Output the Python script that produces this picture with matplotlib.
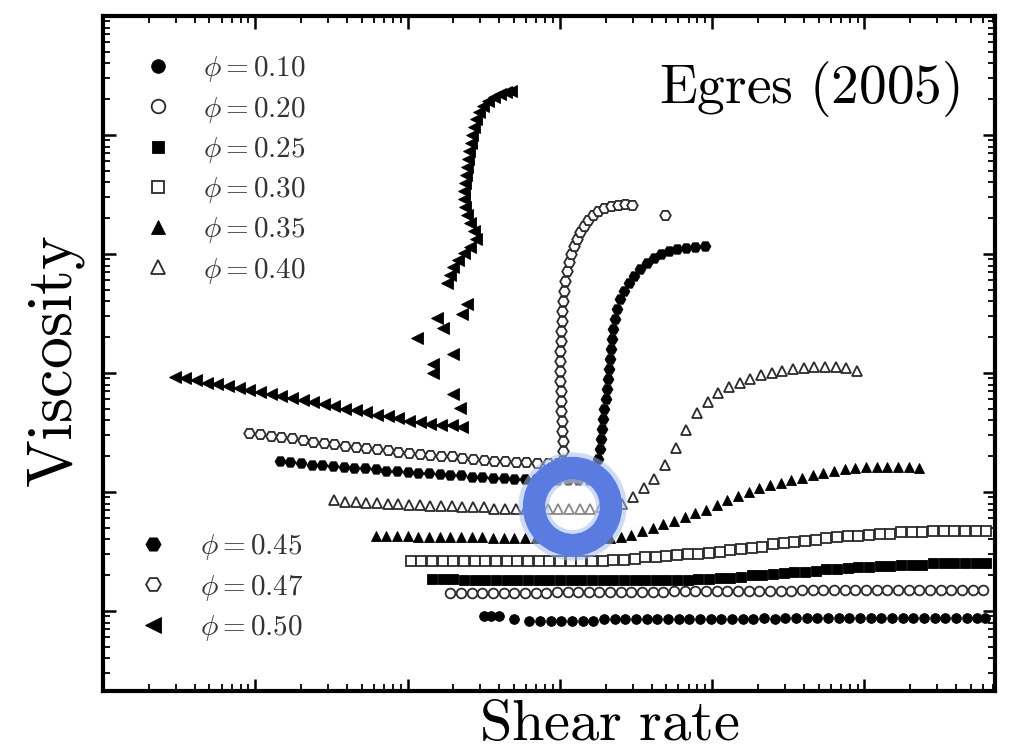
import numpy as np
import matplotlib
matplotlib.use("Agg")
import matplotlib.pyplot as plt
from matplotlib.lines import Line2D
from matplotlib.ticker import LogLocator, NullFormatter

plt.rcParams['mathtext.fontset'] = 'cm'

# Volume fractions shown in the legends
phi_values = ['0.10', '0.20', '0.25', '0.30', '0.35', '0.40', '0.45', '0.47', '0.50']

# log10(shear rate) and log10(viscosity) for each volume fraction
log_rate_10 = [0.50, 0.55, 0.60, 0.70, 0.80, 0.87, 0.94, 1.01, 1.08, 1.15,
               1.22, 1.29, 1.36, 1.43, 1.50, 1.57, 1.64, 1.71, 1.78, 1.85,
               1.92, 1.99, 2.06, 2.13, 2.20, 2.27, 2.34, 2.41, 2.48, 2.55,
               2.62, 2.69, 2.76, 2.83, 2.90, 2.97, 3.04, 3.11, 3.18, 3.25,
               3.32, 3.39, 3.46, 3.53, 3.60, 3.67, 3.74, 3.79]
log_visc_10 = [-3.04, -3.04, -3.04, -3.07, -3.08, -3.08, -3.08, -3.08, -3.08, -3.08,
               -3.08, -3.07, -3.07, -3.07, -3.07, -3.07, -3.07, -3.07, -3.07, -3.07,
               -3.07, -3.07, -3.07, -3.07, -3.07, -3.07, -3.06, -3.07, -3.06, -3.06,
               -3.06, -3.06, -3.06, -3.06, -3.06, -3.06, -3.06, -3.06, -3.06, -3.06,
               -3.06, -3.06, -3.06, -3.06, -3.06, -3.06, -3.06, -3.06]

log_rate_20 = [0.28, 0.35, 0.42, 0.49, 0.56, 0.63, 0.70, 0.77, 0.84, 0.91,
               0.98, 1.05, 1.12, 1.19, 1.26, 1.33, 1.40, 1.47, 1.54, 1.61,
               1.68, 1.75, 1.82, 1.89, 1.96, 2.03, 2.10, 2.17, 2.24, 2.31,
               2.38, 2.45, 2.52, 2.59, 2.66, 2.73, 2.80, 2.87, 2.94, 3.01,
               3.08, 3.15, 3.22, 3.29, 3.36, 3.43, 3.50, 3.57, 3.64, 3.71,
               3.78]
log_visc_20 = [-2.85, -2.85, -2.85, -2.85, -2.85, -2.85, -2.85, -2.85, -2.85, -2.85,
               -2.84, -2.84, -2.84, -2.84, -2.84, -2.84, -2.84, -2.84, -2.84, -2.84,
               -2.84, -2.83, -2.83, -2.83, -2.83, -2.83, -2.83, -2.83, -2.83, -2.83,
               -2.83, -2.83, -2.83, -2.82, -2.82, -2.82, -2.82, -2.82, -2.82, -2.82,
               -2.82, -2.82, -2.82, -2.82, -2.82, -2.82, -2.82, -2.82, -2.82, -2.82,
               -2.82]

log_rate_25 = [0.16, 0.23, 0.30, 0.37, 0.44, 0.51, 0.58, 0.65, 0.72, 0.79,
               0.86, 0.93, 1.00, 1.07, 1.14, 1.21, 1.28, 1.35, 1.42, 1.49,
               1.56, 1.63, 1.70, 1.77, 1.84, 1.91, 1.98, 2.05, 2.12, 2.19,
               2.26, 2.33, 2.40, 2.47, 2.54, 2.61, 2.68, 2.75, 2.82, 2.89,
               2.96, 3.03, 3.10, 3.17, 3.24, 3.31, 3.38, 3.45, 3.52, 3.59,
               3.66, 3.73, 3.80]
log_visc_25 = [-2.73, -2.73, -2.73, -2.74, -2.74, -2.74, -2.74, -2.74, -2.74, -2.74,
               -2.74, -2.74, -2.74, -2.74, -2.74, -2.74, -2.74, -2.74, -2.74, -2.74,
               -2.74, -2.74, -2.74, -2.74, -2.74, -2.73, -2.73, -2.72, -2.72, -2.71,
               -2.70, -2.70, -2.69, -2.68, -2.67, -2.67, -2.66, -2.65, -2.65, -2.64,
               -2.63, -2.63, -2.62, -2.62, -2.61, -2.61, -2.61, -2.60, -2.60, -2.60,
               -2.60, -2.60, -2.60]

log_rate_30 = [0.02, 0.09, 0.16, 0.23, 0.30, 0.37, 0.44, 0.51, 0.58, 0.65,
               0.72, 0.79, 0.86, 0.93, 1.00, 1.07, 1.14, 1.21, 1.28, 1.35,
               1.42, 1.49, 1.56, 1.63, 1.70, 1.77, 1.84, 1.91, 1.98, 2.05,
               2.12, 2.19, 2.26, 2.33, 2.40, 2.47, 2.54, 2.61, 2.68, 2.75,
               2.82, 2.89, 2.96, 3.03, 3.10, 3.17, 3.24, 3.31, 3.38, 3.45,
               3.52, 3.59, 3.66, 3.73, 3.80]
log_visc_30 = [-2.58, -2.58, -2.58, -2.58, -2.58, -2.58, -2.58, -2.58, -2.58, -2.58,
               -2.58, -2.58, -2.58, -2.58, -2.58, -2.58, -2.58, -2.58, -2.58, -2.57,
               -2.57, -2.56, -2.55, -2.55, -2.54, -2.53, -2.52, -2.52, -2.51, -2.50,
               -2.49, -2.48, -2.47, -2.46, -2.44, -2.43, -2.42, -2.41, -2.40, -2.39,
               -2.38, -2.37, -2.37, -2.36, -2.35, -2.35, -2.34, -2.34, -2.34, -2.33,
               -2.33, -2.33, -2.33, -2.33, -2.33]

log_rate_35 = [-0.21, -0.14, -0.07, 0.00, 0.07, 0.14, 0.21, 0.28, 0.35, 0.42,
               0.49, 0.56, 0.63, 0.70, 0.77, 0.84, 0.91, 0.98, 1.05, 1.12,
               1.19, 1.26, 1.33, 1.40, 1.47, 1.54, 1.61, 1.68, 1.75, 1.82,
               1.89, 1.96, 2.03, 2.10, 2.17, 2.24, 2.31, 2.38, 2.45, 2.52,
               2.59, 2.66, 2.73, 2.80, 2.87, 2.94, 3.01, 3.08, 3.15, 3.22,
               3.29, 3.36]
log_visc_35 = [-2.37, -2.37, -2.37, -2.37, -2.38, -2.38, -2.38, -2.38, -2.38, -2.38,
               -2.38, -2.39, -2.39, -2.39, -2.39, -2.39, -2.39, -2.39, -2.39, -2.39,
               -2.39, -2.39, -2.39, -2.38, -2.36, -2.33, -2.30, -2.27, -2.24, -2.21,
               -2.18, -2.15, -2.11, -2.07, -2.03, -2.00, -1.97, -1.94, -1.92, -1.90,
               -1.88, -1.86, -1.84, -1.82, -1.81, -1.80, -1.79, -1.79, -1.79, -1.79,
               -1.79, -1.80]

log_rate_40 = [-0.48, -0.41, -0.34, -0.27, -0.20, -0.13, -0.06, 0.01, 0.08, 0.15,
               0.22, 0.29, 0.36, 0.43, 0.50, 0.57, 0.64, 0.71, 0.78, 0.85,
               0.92, 0.99, 1.06, 1.13, 1.20, 1.27, 1.34, 1.41, 1.48, 1.55,
               1.62, 1.69, 1.76, 1.83, 1.90, 1.97, 2.04, 2.11, 2.18, 2.25,
               2.32, 2.39, 2.46, 2.53, 2.60, 2.67, 2.74, 2.81, 2.88, 2.95]
log_visc_40 = [-2.07, -2.08, -2.08, -2.09, -2.09, -2.10, -2.10, -2.11, -2.11, -2.12,
               -2.12, -2.12, -2.13, -2.13, -2.13, -2.14, -2.14, -2.14, -2.14, -2.14,
               -2.14, -2.14, -2.14, -2.14, -2.14, -2.13, -2.13, -2.10, -2.04, -1.97,
               -1.89, -1.77, -1.63, -1.48, -1.34, -1.24, -1.17, -1.12, -1.08, -1.05,
               -1.02, -1.00, -0.98, -0.97, -0.96, -0.95, -0.95, -0.95, -0.96, -0.98]

log_rate_45 = [-0.84, -0.77, -0.70, -0.63, -0.56, -0.49, -0.42, -0.35, -0.28, -0.21,
               -0.14, -0.07, 0.00, 0.07, 0.14, 0.21, 0.28, 0.35, 0.42, 0.49,
               0.56, 0.63, 0.70, 0.77, 0.84, 0.91, 0.98, 1.05, 1.12, 1.19,
               1.224, 1.237, 1.250, 1.263, 1.270, 1.276, 1.283, 1.290, 1.303, 1.309,
               1.316, 1.322, 1.329, 1.335, 1.342, 1.349, 1.362, 1.375, 1.395, 1.421,
               1.454, 1.487, 1.526, 1.572, 1.618, 1.664, 1.716, 1.769, 1.828, 1.887,
               1.953]
log_visc_45 = [-1.74, -1.75, -1.76, -1.77, -1.77, -1.78, -1.79, -1.80, -1.80, -1.81,
               -1.82, -1.82, -1.83, -1.84, -1.84, -1.85, -1.86, -1.86, -1.87, -1.87,
               -1.88, -1.88, -1.89, -1.89, -1.89, -1.90, -1.90, -1.90, -1.90, -1.90,
               -1.891, -1.807, -1.723, -1.639, -1.555, -1.471, -1.387, -1.303, -1.218, -1.134,
               -1.050, -0.966, -0.882, -0.798, -0.714, -0.630, -0.546, -0.462, -0.378, -0.311,
               -0.244, -0.185, -0.126, -0.076, -0.034, 0.000, 0.025, 0.042, 0.050, 0.059,
               0.067]

log_rate_47 = [-1.04, -0.97, -0.90, -0.83, -0.76, -0.69, -0.62, -0.55, -0.48, -0.41,
               -0.34, -0.27, -0.20, -0.13, -0.06, 0.01, 0.08, 0.15, 0.22, 0.29,
               0.36, 0.43, 0.50, 0.57, 0.64, 0.71, 0.78, 0.85, 0.92, 0.99,
               1.014, 1.020, 1.020, 1.014, 1.014, 1.007, 1.007, 1.007, 1.001, 1.001,
               1.001, 1.001, 1.007, 1.007, 1.014, 1.014, 1.020, 1.027, 1.033, 1.047,
               1.060, 1.073, 1.093, 1.112, 1.132, 1.158, 1.185, 1.217, 1.250, 1.290,
               1.336, 1.381, 1.427, 1.473, 1.690]
log_visc_47 = [-1.50, -1.51, -1.53, -1.54, -1.55, -1.56, -1.58, -1.59, -1.60, -1.61,
               -1.62, -1.63, -1.64, -1.65, -1.66, -1.67, -1.68, -1.69, -1.70, -1.70,
               -1.71, -1.72, -1.73, -1.74, -1.74, -1.75, -1.75, -1.76, -1.76, -1.76,
               -1.739, -1.655, -1.571, -1.487, -1.403, -1.319, -1.235, -1.151, -1.067, -0.983,
               -0.899, -0.815, -0.731, -0.647, -0.563, -0.479, -0.395, -0.311, -0.227, -0.143,
               -0.067, 0.000, 0.067, 0.126, 0.185, 0.235, 0.286, 0.328, 0.361, 0.387,
               0.403, 0.412, 0.420, 0.412, 0.328]

log_rate_50 = [-1.53, -1.46, -1.39, -1.32, -1.25, -1.18, -1.11, -1.04, -0.97, -0.90,
               -0.83, -0.76, -0.69, -0.62, -0.55, -0.48, -0.41, -0.34, -0.27, -0.20,
               -0.13, -0.06, 0.01, 0.08, 0.15, 0.22, 0.29, 0.36,
               0.344, 0.298, 0.167, 0.167, 0.298, 0.062, 0.232, 0.193, 0.357, 0.390,
               0.259, 0.278, 0.298, 0.331, 0.370, 0.410, 0.449, 0.436, 0.410, 0.390,
               0.377, 0.370, 0.370, 0.377, 0.383, 0.390, 0.397, 0.403, 0.416, 0.423,
               0.436, 0.449, 0.469, 0.495, 0.528, 0.567, 0.607, 0.646, 0.679]
log_visc_50 = [-1.03, -1.04, -1.06, -1.08, -1.09, -1.11, -1.13, -1.14, -1.16, -1.18,
               -1.19, -1.21, -1.23, -1.24, -1.26, -1.28, -1.30, -1.31, -1.33, -1.35,
               -1.36, -1.38, -1.40, -1.41, -1.43, -1.44, -1.44, -1.45,
               -1.294, -1.176, -1.000, -0.924, -0.840, -0.706, -0.622, -0.538, -0.504, -0.420,
               -0.244, -0.176, -0.109, -0.050, 0.008, 0.059, 0.126, 0.193, 0.261, 0.328,
               0.395, 0.462, 0.529, 0.597, 0.664, 0.731, 0.798, 0.866, 0.933, 1.000,
               1.067, 1.134, 1.193, 1.244, 1.286, 1.319, 1.345, 1.361, 1.370]

# Highlighted region (shear rate, viscosity)
highlight_rate = 12.0
highlight_visc = 7.6e-3

# marker, filled?, marker size for each volume fraction
styles = [('o', True, 7.0), ('o', False, 7.0), ('s', True, 6.5), ('s', False, 6.5),
          ('^', True, 7.6), ('^', False, 7.6), ('H', True, 7.8), ('H', False, 7.6),
          ('<', True, 8.0)]

series = [(log_rate_10, log_visc_10), (log_rate_20, log_visc_20),
          (log_rate_25, log_visc_25), (log_rate_30, log_visc_30),
          (log_rate_35, log_visc_35), (log_rate_40, log_visc_40),
          (log_rate_45, log_visc_45), (log_rate_47, log_visc_47),
          (log_rate_50, log_visc_50)]

fig = plt.figure(figsize=(10.16, 7.54), dpi=100)
ax = fig.add_axes([103 / 1016, 1 - 691 / 754, 892 / 1016, 675 / 754])


def marker_kw(marker, filled, size):
    return dict(linestyle='none', marker=marker, markersize=size,
                markerfacecolor='black' if filled else 'white',
                markeredgecolor='black' if filled else '#2b2b2b',
                markeredgewidth=0.6 if filled else 1.3)


for (lr, lv), (m, filled, size) in zip(series, styles):
    ax.plot(np.power(10.0, lr), np.power(10.0, lv), **marker_kw(m, filled, size))

ax.set_xscale('log')
ax.set_yscale('log')
ax.set_xlim(1e-2, 10 ** 3.857)
ax.set_ylim(10 ** -3.672, 1e2)

for axis in (ax.xaxis, ax.yaxis):
    axis.set_major_locator(LogLocator(base=10, numticks=20))
    axis.set_minor_locator(LogLocator(base=10, subs=(2, 3, 4, 5, 6, 7, 8, 9), numticks=100))
    axis.set_major_formatter(NullFormatter())
    axis.set_minor_formatter(NullFormatter())

ax.tick_params(which='both', direction='in', top=True, right=True,
               labelbottom=False, labelleft=False, color='black')
ax.tick_params(which='major', length=9, width=1.8)
ax.tick_params(which='minor', length=5, width=1.3)
for sp in ax.spines.values():
    sp.set_linewidth(3)

ax.set_xlabel(r'$\mathrm{Shear\ rate}$', fontsize=42)
ax.xaxis.set_label_coords(0.568, -0.006)
ax.set_ylabel(r'$\mathrm{Viscosity}$', fontsize=46)
ax.yaxis.set_label_coords(-0.018, 0.489)

ax.text(0.961, 0.871, r'$\mathrm{Egres\ (2005)}$', transform=ax.transAxes,
        ha='right', va='baseline', fontsize=40)

# Legends
labels = [rf'$\phi = {p}$' for p in phi_values]
handles = [Line2D([], [], **marker_kw(m, f, s * 1.4)) for (m, f, s) in styles]

leg1 = ax.legend(handles[:6], labels[:6], loc='upper left',
                 bbox_to_anchor=(0.037, 0.943), frameon=False, fontsize=21,
                 handlelength=1.5, handletextpad=0.8, labelspacing=0.35,
                 borderpad=0, borderaxespad=0, numpoints=1, labelcolor='#333333')
ax.add_artist(leg1)
leg2 = ax.legend(handles[6:], labels[6:], loc='upper left',
                 bbox_to_anchor=(0.031, 0.235), frameon=False, fontsize=21,
                 handlelength=1.5, handletextpad=0.88, labelspacing=0.35,
                 borderpad=0, borderaxespad=0, numpoints=1, labelcolor='#333333')

# Highlight ring
ax.plot(highlight_rate, highlight_visc, marker='o', markersize=40,
        markerfacecolor='white', markeredgecolor='none', alpha=0.45, zorder=5)
ax.plot(highlight_rate, highlight_visc, marker='o', markersize=56,
        markerfacecolor='none', markeredgecolor='#a8bcf2', markeredgewidth=22,
        alpha=0.55, zorder=6)
ax.plot(highlight_rate, highlight_visc, marker='o', markersize=55.5,
        markerfacecolor='none', markeredgecolor='#5a7be0', markeredgewidth=16,
        zorder=7)

fig.savefig('out.png', dpi=100)
